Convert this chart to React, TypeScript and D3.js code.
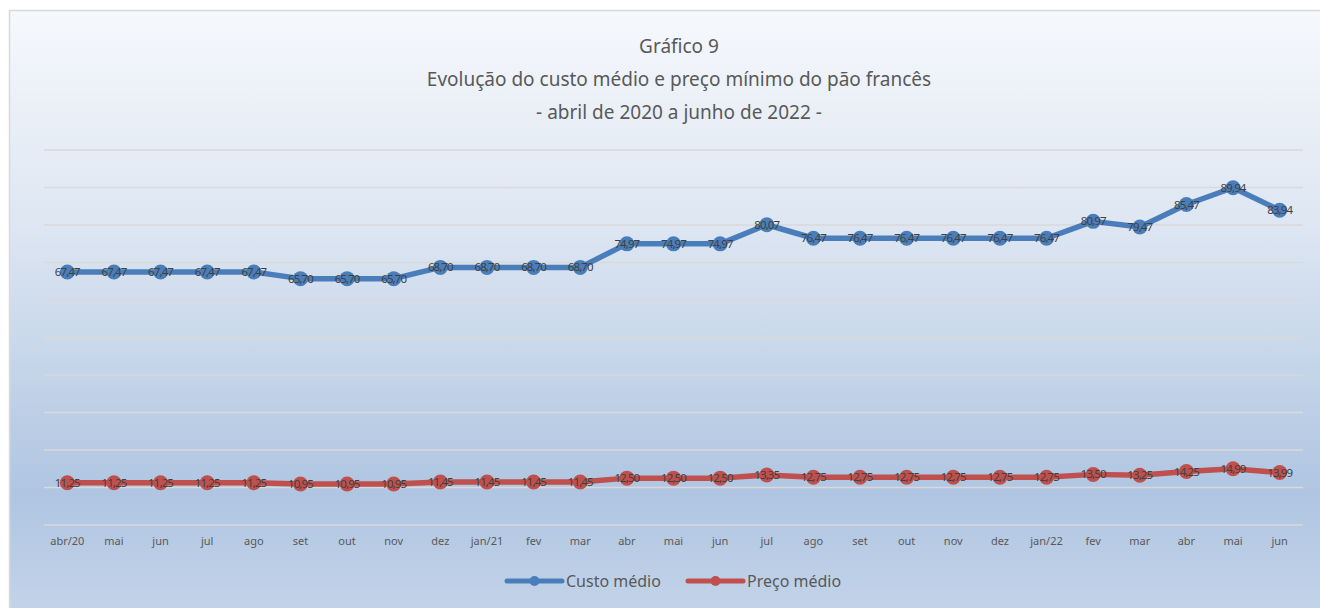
import * as d3 from 'd3'
import React from 'react'

const months = [
  'abr/20', 'mai', 'jun', 'jul', 'ago', 'set', 'out', 'nov', 'dez',
  'jan/21', 'fev', 'mar', 'abr', 'mai', 'jun', 'jul', 'ago', 'set',
  'out', 'nov', 'dez', 'jan/22', 'fev', 'mar', 'abr', 'mai', 'jun',
]

const custoMedio = [
  67.47, 67.47, 67.47, 67.47, 67.47, 65.7, 65.7, 65.7, 68.7,
  68.7, 68.7, 68.7, 74.97, 74.97, 74.97, 80.07, 76.47, 76.47,
  76.47, 76.47, 76.47, 76.47, 80.97, 79.47, 85.47, 89.94, 83.94,
]

const precoMedio = [
  11.25, 11.25, 11.25, 11.25, 11.25, 10.95, 10.95, 10.95, 11.45,
  11.45, 11.45, 11.45, 12.5, 12.5, 12.5, 13.35, 12.75, 12.75,
  12.75, 12.75, 12.75, 12.75, 13.5, 13.25, 14.25, 14.99, 13.99,
]

const yTicks = [0, 10, 20, 30, 40, 50, 60, 70, 80, 90, 100]

const titleLines = [
  'Gráfico 9',
  'Evolução do custo médio e preço mínimo do pão francês',
  '- abril de 2020 a junho de 2022 -',
]

const series = [
  { name: 'Custo médio', values: custoMedio, color: '#4a7ebb' },
  { name: 'Preço médio', values: precoMedio, color: '#c0504d' },
]

const W = 1320
const H = 608
const font = "'Noto Sans', 'Open Sans', sans-serif"
const fmt = (v: number) => v.toFixed(2).replace('.', ',')

export default function App() {
  const left = 44
  const right = 1303
  const top = 150
  const bottom = 525

  const x = d3
    .scaleBand<number>()
    .domain(months.map((_, i) => i))
    .range([left, right])
  const cx = (i: number) => (x(i) as number) + x.bandwidth() / 2
  const y = d3.scaleLinear().domain([0, 100]).range([bottom, top])

  const line = d3
    .line<number>()
    .x((_, i) => cx(i))
    .y(d => y(d))

  return (
    <svg
      width={W}
      height={H}
      style={{ position: 'absolute', left: 0, top: 0 }}
      fontFamily={font}
    >
      <defs>
        <linearGradient id="bg" x1="0" y1="0" x2="0" y2="1">
          <stop offset="0%" stopColor="#f6f8fc" />
          <stop offset="35%" stopColor="#dde6f2" />
          <stop offset="78%" stopColor="#afc5e1" />
          <stop offset="100%" stopColor="#c6d6ea" />
        </linearGradient>
      </defs>
      <rect x={9.5} y={10.5} width={1340} height={620} fill="url(#bg)" stroke="#d9d9d9" strokeWidth={1.5} />

      {titleLines.map((t, i) => (
        <text
          key={i}
          x={679}
          y={53 + i * 33}
          textAnchor="middle"
          fontSize={19}
          fill="#595959"
        >
          {t}
        </text>
      ))}

      {yTicks.map(t => (
        <line key={t} x1={left} x2={right} y1={y(t)} y2={y(t)} stroke="#d9d9d9" strokeWidth={1.5} />
      ))}

      {months.map((m, i) => (
        <text key={i} x={cx(i)} y={545} textAnchor="middle" fontSize={11} fill="#595959">
          {m}
        </text>
      ))}

      {series.map(s => (
        <g key={s.name}>
          <path d={line(s.values) as string} fill="none" stroke={s.color} strokeWidth={5.5} strokeLinejoin="round" />
          {s.values.map((v, i) => (
            <circle key={i} cx={cx(i)} cy={y(v)} r={7.5} fill={s.color} />
          ))}
          {s.values.map((v, i) => (
            <text
              key={'t' + i}
              x={cx(i)}
              y={y(v)}
              dy="0.35em"
              textAnchor="middle"
              fontSize={11.5}
              letterSpacing={-0.9}
              fill="#404040"
            >
              {fmt(v)}
            </text>
          ))}
        </g>
      ))}

      {series.map((s, k) => {
        const lx = 507 + k * 181
        return (
          <g key={s.name}>
            <line x1={lx} x2={lx + 55} y1={581} y2={581} stroke={s.color} strokeWidth={5} strokeLinecap="round" />
            <circle cx={lx + 27.5} cy={581} r={5} fill={s.color} />
            <text x={lx + 59} y={587} fontSize={16} fill="#595959">
              {s.name}
            </text>
          </g>
        )
      })}
    </svg>
  )
}
